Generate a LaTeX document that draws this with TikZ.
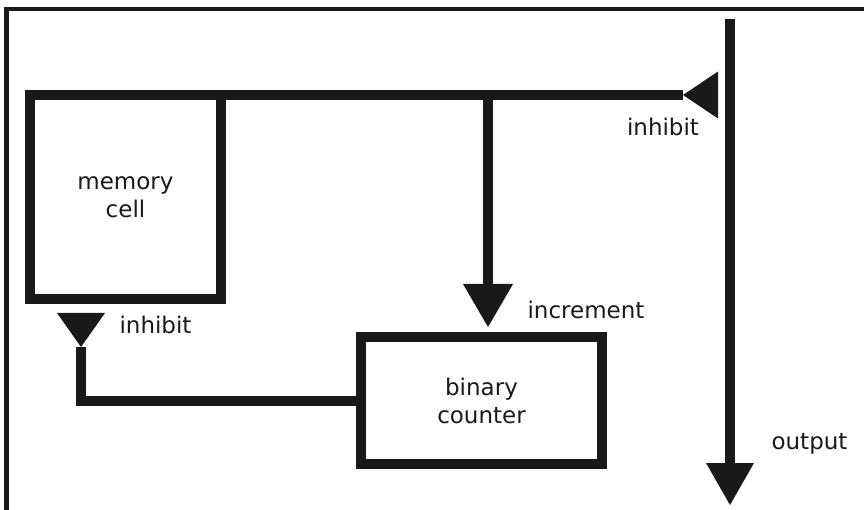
\documentclass[tikz,border=0pt]{standalone}
\usepackage{fontspec}
\setmainfont{DejaVu Sans}
\usetikzlibrary{positioning}
\def\tri(#1)(#2)(#3){\fill[ink] (#1) -- (#2) -- (#3) -- cycle;}

\begin{document}
\begin{tikzpicture}[x=1pt,y=-1pt,
    ink/.style={color=black!90},
    wire/.style={ink, line width=10pt},
    unit/.style={draw=black!90, line width=10pt, outer sep=0pt, inner sep=0pt, align=center, text=black!90, font=\fontsize{23}{28}\selectfont},
    lbl/.style={anchor=base, inner sep=0pt, text=black!90, font=\fontsize{23}{28}\selectfont}]
			%%%%% START %%%%%
			\useasboundingbox (0,0) rectangle (864,510);
			
			% frame
			\draw[ink, line width=4.5pt] (880,9) -- (6.5,9) -- (6.5,530);
			
			% boxes
			\node[unit, minimum width=191pt, minimum height=204pt] (mem) at (125.5,197) {memory\\cell};
			\node[unit, minimum width=241pt, minimum height=127pt] (cnt) at (481.5,400.5) {binary\\counter};
			
			% points on the wires
			\coordinate (fork) at (488,95);
			\coordinate (inhTopTip) at (683,95);
			\coordinate (incBase) at (488,284);
			\coordinate (outTop) at (730,19);
			\coordinate (outBase) at (730,463);
			\coordinate (inhLeftTip) at (81,347);
			
			% wires
			\draw[wire] (mem.north east) -- (inhTopTip);
			\draw[wire] (fork) -- (incBase);
			\draw[wire] (outTop) -- (outBase);
			\draw[wire] (cnt.west) -| (inhLeftTip);
			
			% tips
			\tri(inhTopTip)(718,71.5)(718,118.5)
			\tri(463,284)(513,284)(488,327)
			\tri(706,463)(754,463)(730,505)
			\tri(57,313)(105,313)(inhLeftTip)
			
			% labels
			\node[lbl] (inhTopLbl) at (663,136) {inhibit};
			\node[lbl] (inhLeftLbl) at (155.5,334) {inhibit};
			\node[lbl] (incLbl) at (586,319) {increment};
			\node[lbl] (outLbl) at (809.5,449) {output};
			%%%%% END %%%%%
\end{tikzpicture}
\end{document}
